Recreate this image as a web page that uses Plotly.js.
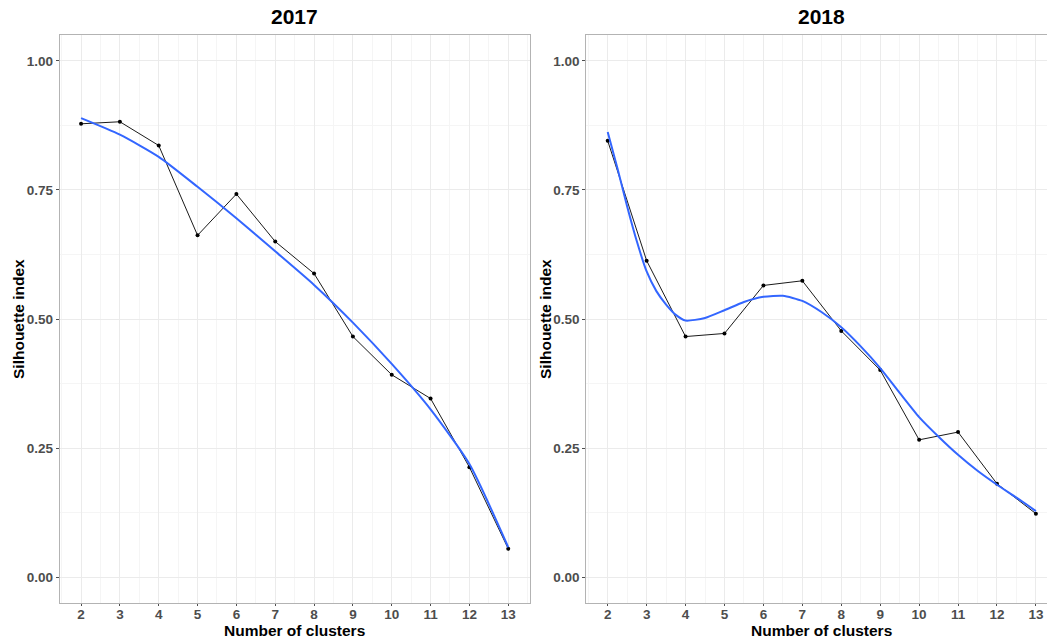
<!DOCTYPE html>
<html>
<head>
<meta charset="utf-8">
<script src="https://cdn.plot.ly/plotly-3.0.1.min.js"></script>
<style>html,body{margin:0;padding:0;background:#fff;}#chart{width:1047px;height:638px;}</style>
</head>
<body>
<div id="chart"></div>
<script>
// Data
const clusters = [2, 3, 4, 5, 6, 7, 8, 9, 10, 11, 12, 13];
const sil2017 = [0.878, 0.882, 0.836, 0.662, 0.742, 0.650, 0.588, 0.466, 0.392, 0.346, 0.213, 0.055];
const sil2018 = [0.845, 0.613, 0.466, 0.472, 0.565, 0.574, 0.477, 0.401, 0.266, 0.281, 0.181, 0.123];

// Smoothed (loess) curves
const smoothX2017 = [2, 3, 4, 5, 6, 7, 8, 9, 10, 11, 12, 13];
const smooth2017 = [0.889, 0.857, 0.814, 0.756, 0.695, 0.631, 0.566, 0.493, 0.413, 0.325, 0.219, 0.058];
const smoothX2018 = [2, 2.25, 2.5, 2.75, 3, 3.25, 3.5, 3.75, 4, 4.5, 5, 5.5, 6, 6.5, 7, 7.5, 8, 8.5, 9, 9.5, 10, 10.5, 11, 11.5, 12, 12.5, 13];
const smooth2018 = [0.862, 0.792, 0.718, 0.650, 0.592, 0.554, 0.528, 0.508, 0.497, 0.502, 0.517, 0.533, 0.543, 0.545, 0.535, 0.513, 0.484, 0.447, 0.405, 0.357, 0.310, 0.272, 0.237, 0.206, 0.179, 0.154, 0.128];

const panelTitles = ['2017', '2018'];
const xTitle = 'Number of clusters';
const yTitle = 'Silhouette index';
const yTicks = [0, 0.25, 0.5, 0.75, 1.0];
const yTickText = ['0.00', '0.25', '0.50', '0.75', '1.00'];

const W = 1047;
const leftDom = [59.7 / W, 529.6 / W];
const rightDom = [586.3 / W, 1];

const lineStyle = {color: '#1a1a1a', width: 1};
const markerStyle = {color: '#000000', size: 4};
const smoothStyle = {color: '#3366FF', width: 2, shape: 'spline', smoothing: 0.6};

const traces = [
  {x: clusters, y: sil2017, type: 'scatter', mode: 'lines+markers', line: lineStyle, marker: markerStyle, xaxis: 'x', yaxis: 'y'},
  {x: smoothX2017, y: smooth2017, type: 'scatter', mode: 'lines', line: smoothStyle, xaxis: 'x', yaxis: 'y'},
  {x: clusters, y: sil2018, type: 'scatter', mode: 'lines+markers', line: lineStyle, marker: markerStyle, xaxis: 'x2', yaxis: 'y2'},
  {x: smoothX2018, y: smooth2018, type: 'scatter', mode: 'lines', line: smoothStyle, xaxis: 'x2', yaxis: 'y2'}
];

const tickFont = {family: 'Liberation Sans, Arial, sans-serif', size: 13.5, color: '#4d4d4d', weight: 'bold'};

function xAxis(domain, range, anchor) {
  return {
    domain: domain, range: range, anchor: anchor,
    tickmode: 'array', tickvals: clusters, ticktext: clusters.map(String),
    showgrid: true, gridcolor: '#ebebeb', gridwidth: 1,
    minor: {dtick: 0.5, tick0: 1.5, showgrid: true, gridcolor: '#f5f5f5', gridwidth: 1},
    zeroline: false, showline: true, linecolor: '#b3b3b3', linewidth: 1, mirror: true,
    ticks: 'outside', ticklen: 2, tickcolor: '#4d4d4d', tickwidth: 1,
    ticklabelstandoff: -3,
    tickfont: tickFont, automargin: false, fixedrange: true
  };
}
function yAxis(anchor) {
  return {
    domain: [0, 1], range: [-0.05, 1.05], anchor: anchor,
    tickmode: 'array', tickvals: yTicks, ticktext: yTickText,
    showgrid: true, gridcolor: '#ebebeb', gridwidth: 1,
    minor: {dtick: 0.125, tick0: 0.125, showgrid: true, gridcolor: '#f5f5f5', gridwidth: 1},
    zeroline: false, showline: true, linecolor: '#b3b3b3', linewidth: 1, mirror: true,
    ticks: 'outside', ticklen: 3, tickcolor: '#4d4d4d', tickwidth: 1,
    tickfont: tickFont, automargin: false, fixedrange: true
  };
}

const titleFont = {family: 'Liberation Sans, Arial, sans-serif', size: 21, color: '#000000', weight: 'bold'};
const axTitleFont = {family: 'Liberation Sans, Arial, sans-serif', size: 15.5, color: '#000000', weight: 'bold'};
const plotH = 638 - 35 - 35;
function py(pix) { return (603 - pix) / plotH; }

const annotations = [
  {text: panelTitles[0], x: 294.6 / W, y: py(17), xref: 'paper', yref: 'paper', showarrow: false, font: titleFont, xanchor: 'center', yanchor: 'middle'},
  {text: panelTitles[1], x: 821.7 / W, y: py(17), xref: 'paper', yref: 'paper', showarrow: false, font: titleFont, xanchor: 'center', yanchor: 'middle'},
  {text: xTitle, x: 294.6 / W, y: py(630), xref: 'paper', yref: 'paper', showarrow: false, font: axTitleFont, xanchor: 'center', yanchor: 'middle'},
  {text: xTitle, x: 821.7 / W, y: py(630), xref: 'paper', yref: 'paper', showarrow: false, font: axTitleFont, xanchor: 'center', yanchor: 'middle'},
  {text: yTitle, x: 18 / W, y: py(319), xref: 'paper', yref: 'paper', showarrow: false, font: axTitleFont, textangle: -90, xanchor: 'center', yanchor: 'middle'},
  {text: yTitle, x: 545 / W, y: py(319), xref: 'paper', yref: 'paper', showarrow: false, font: axTitleFont, textangle: -90, xanchor: 'center', yanchor: 'middle'}
];

const layout = {
  width: 1047, height: 638,
  margin: {l: 0, r: 0, t: 35, b: 35, pad: 0},
  paper_bgcolor: '#ffffff', plot_bgcolor: '#ffffff',
  showlegend: false,
  xaxis: xAxis(leftDom, [1.45, 13.55], 'y'),
  yaxis: yAxis('x'),
  xaxis2: xAxis(rightDom, [1.45, 13.285], 'y2'),
  yaxis2: yAxis('x2'),
  annotations: annotations,
  font: {family: 'Liberation Sans, Arial, sans-serif'}
};

Plotly.newPlot('chart', traces, layout, {displayModeBar: false, staticPlot: true});
</script>
</body>
</html>
